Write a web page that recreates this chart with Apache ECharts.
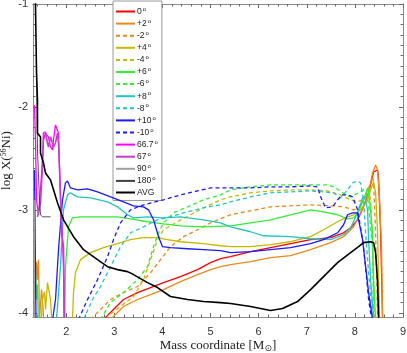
<!DOCTYPE html>
<html>
<head>
<meta charset="utf-8">
<script src="https://cdn.jsdelivr.net/npm/echarts@6/dist/echarts.min.js"></script>
<style>
  html, body { margin: 0; padding: 0; background: #fff; }
  #chart { width: 407px; height: 353px; }
</style>
</head>
<body>
<div id="chart"></div>
<script>
// x = mass coordinate [Msun], y = log X(56Ni)
var deg0 = [[2.713,-4.2],[2.775,-4.064],[2.983,-3.967],[3.191,-3.870],[3.482,-3.803],[3.753,-3.754],[4.023,-3.706],[4.376,-3.648],[4.730,-3.580],[5.000,-3.512],[5.208,-3.473],[5.416,-3.454],[5.832,-3.406],[6.247,-3.367],[6.663,-3.328],[7.079,-3.289],[7.495,-3.270],[7.765,-3.222],[7.911,-3.173],[8.056,-3.096],[8.181,-2.970],[8.285,-2.834],[8.389,-2.631],[8.472,-2.612],[8.493,-2.709],[8.535,-3.222],[8.576,-4.064],[8.59,-4.2]];
var degP2 = [[1.341,-3.870],[1.383,-3.503],[1.403,-3.677],[1.424,-3.483],[1.445,-4.064],[1.487,-3.774],[1.507,-3.870],[1.549,-4.2],[2.817,-4.2],[2.921,-4.064],[3.191,-3.938],[3.482,-3.870],[3.753,-3.822],[4.023,-3.774],[4.376,-3.696],[4.730,-3.628],[5.000,-3.580],[5.208,-3.551],[5.416,-3.532],[5.832,-3.503],[6.247,-3.464],[6.663,-3.444],[7.079,-3.386],[7.495,-3.318],[7.765,-3.260],[7.973,-3.164],[8.118,-3.028],[8.264,-2.873],[8.368,-2.641],[8.431,-2.563],[8.472,-2.612],[8.514,-2.902],[8.555,-3.386],[8.576,-4.064],[8.59,-4.2]];
var degM2 = [[2.464,-4.2],[2.505,-4.064],[2.713,-3.967],[2.921,-3.870],[3.191,-3.803],[3.482,-3.744],[3.753,-3.609],[3.961,-3.483],[4.168,-3.357],[4.439,-3.260],[4.730,-3.193],[5.000,-3.125],[5.208,-3.086],[5.416,-3.047],[5.832,-3.009],[6.247,-2.970],[6.663,-2.960],[7.079,-2.951],[7.495,-2.960],[7.765,-2.970],[7.973,-2.999],[8.077,-2.980],[8.181,-2.902],[8.285,-2.786],[8.368,-2.680],[8.389,-2.738],[8.431,-3.222],[8.472,-4.064],[8.48,-4.2]];
var degP4 = [[1.466,-4.2],[1.507,-3.870],[1.549,-3.793],[1.570,-3.967],[1.611,-3.706],[1.632,-3.696],[1.674,-3.870],[1.715,-4.2],[2.110,-4.2],[2.131,-4.064],[2.152,-3.803],[2.193,-3.609],[2.297,-3.483],[2.505,-3.415],[2.775,-3.367],[3.067,-3.328],[3.337,-3.289],[3.607,-3.270],[3.898,-3.270],[4.106,-3.289],[4.376,-3.309],[4.854,-3.328],[5.208,-3.348],[5.416,-3.357],[5.832,-3.357],[6.247,-3.338],[6.663,-3.309],[7.079,-3.260],[7.349,-3.193],[7.640,-3.115],[7.848,-3.067],[7.973,-3.047],[8.118,-2.999],[8.264,-2.902],[8.327,-2.805],[8.389,-2.728],[8.431,-2.834],[8.472,-3.222],[8.493,-3.677],[8.514,-4.064],[8.52,-4.2]];
var degM4 = [[2.819,-4.2],[2.859,-4.035],[3.129,-3.938],[3.399,-3.841],[3.607,-3.677],[3.753,-3.483],[3.898,-3.289],[4.023,-3.193],[4.314,-3.115],[4.584,-3.047],[4.854,-2.980],[5.208,-2.902],[5.416,-2.873],[5.832,-2.834],[6.247,-2.815],[6.663,-2.805],[7.079,-2.805],[7.432,-2.815],[7.702,-2.854],[7.911,-2.902],[8.056,-2.922],[8.160,-2.902],[8.223,-2.873],[8.285,-2.776],[8.327,-2.902],[8.368,-3.386],[8.410,-4.064],[8.42,-4.2]];
var degP6 = [[1.362,-3.580],[1.383,-3.870],[1.403,-3.725],[1.424,-4.2],[1.965,-4.2],[1.985,-3.551],[2.048,-3.164],[2.131,-3.077],[2.297,-3.067],[2.651,-3.067],[3.067,-3.067],[3.337,-3.086],[3.690,-3.115],[4.023,-3.135],[4.376,-3.154],[4.854,-3.164],[5.416,-3.154],[5.832,-3.125],[6.247,-3.096],[6.663,-3.047],[7.079,-2.999],[7.349,-3.018],[7.640,-3.047],[7.848,-3.086],[7.973,-3.077],[8.077,-3.018],[8.181,-2.902],[8.264,-2.786],[8.306,-2.902],[8.368,-3.222],[8.389,-3.677],[8.431,-4.064],[8.44,-4.2]];
var degM6 = [[2.671,-4.2],[2.713,-4.064],[2.921,-3.899],[3.191,-3.803],[3.482,-3.677],[3.690,-3.551],[3.815,-3.357],[3.919,-3.222],[4.023,-3.125],[4.231,-3.028],[4.522,-2.970],[4.854,-2.902],[5.208,-2.854],[5.416,-2.805],[5.832,-2.776],[6.247,-2.757],[6.663,-2.757],[7.079,-2.757],[7.432,-2.757],[7.557,-2.776],[7.661,-2.805],[7.806,-2.854],[7.911,-2.873],[8.077,-2.834],[8.181,-2.805],[8.264,-2.873],[8.306,-3.067],[8.368,-3.386],[8.389,-4.064],[8.40,-4.2]];
var degP8 = [[1.778,-4.2],[1.881,-3.551],[1.944,-2.999],[2.027,-2.854],[2.089,-2.834],[2.235,-2.873],[2.505,-2.883],[2.859,-2.922],[3.067,-2.970],[3.274,-3.047],[3.399,-3.077],[3.690,-3.067],[4.023,-3.077],[4.376,-3.067],[4.854,-3.096],[5.208,-3.125],[5.416,-3.164],[5.832,-3.212],[6.102,-3.251],[6.663,-3.260],[7.079,-3.280],[7.495,-3.289],[7.765,-3.241],[7.911,-3.173],[8.056,-3.028],[8.160,-2.883],[8.202,-2.873],[8.264,-2.999],[8.285,-3.289],[8.327,-3.677],[8.389,-4.064],[8.40,-4.2]];
var degM8 = [[2.318,-4.2],[2.360,-4.064],[2.547,-3.870],[2.713,-3.744],[2.921,-3.551],[3.129,-3.357],[3.337,-3.222],[3.607,-3.164],[3.898,-3.096],[4.168,-3.067],[4.439,-3.028],[4.854,-2.980],[5.208,-2.951],[5.416,-2.922],[5.832,-2.873],[6.247,-2.834],[6.663,-2.825],[7.079,-2.815],[7.349,-2.825],[7.557,-2.834],[7.702,-2.883],[7.848,-2.805],[7.952,-2.738],[8.056,-2.718],[8.118,-2.738],[8.181,-2.902],[8.223,-3.222],[8.285,-3.609],[8.368,-4.064],[8.38,-4.2]];
var degP10 = [[1.341,-2.612],[1.372,-4.064],[1.38,-4.2],[1.674,-4.2],[1.778,-3.870],[1.840,-3.386],[1.923,-2.902],[1.985,-2.738],[2.027,-2.718],[2.089,-2.786],[2.235,-2.805],[2.443,-2.796],[2.651,-2.825],[2.921,-2.873],[3.191,-2.922],[3.399,-2.960],[3.607,-2.970],[3.711,-2.999],[3.815,-3.096],[3.919,-3.260],[4.002,-3.357],[4.168,-3.367],[4.521,-3.377],[4.854,-3.386],[5.208,-3.396],[5.416,-3.415],[5.832,-3.406],[6.247,-3.386],[6.663,-3.367],[7.079,-3.328],[7.349,-3.289],[7.640,-3.222],[7.765,-3.144],[7.848,-3.047],[7.952,-3.028],[8.056,-3.028],[8.077,-3.096],[8.160,-3.289],[8.223,-3.551],[8.285,-3.803],[8.368,-4.064],[8.38,-4.2]];
var degM10 = [[2.214,-4.2],[2.256,-4.064],[2.443,-3.870],[2.651,-3.677],[2.859,-3.454],[2.983,-3.289],[3.129,-3.125],[3.337,-2.999],[3.607,-2.951],[4.023,-2.902],[4.376,-2.854],[4.730,-2.815],[5.000,-2.786],[5.416,-2.786],[5.832,-2.786],[6.247,-2.776],[6.663,-2.776],[7.079,-2.767],[7.224,-2.776],[7.287,-2.873],[7.391,-2.980],[7.536,-2.970],[7.640,-2.902],[7.744,-2.854],[7.848,-2.854],[7.952,-2.873],[8.056,-2.999],[8.160,-3.289],[8.223,-3.551],[8.285,-3.870],[8.347,-4.064],[8.36,-4.2]];
var deg667 = [[1.341,-1.983],[1.362,-2.321],[1.383,-2.902],[1.424,-3.047],[1.466,-2.805],[1.507,-2.515],[1.528,-2.321],[1.570,-2.254],[1.611,-2.244],[1.632,-2.292],[1.674,-2.389],[1.715,-2.418],[1.736,-2.321],[1.778,-2.176],[1.819,-2.167],[1.840,-2.254],[1.881,-2.902],[1.923,-3.289],[1.944,-3.551],[1.954,-4.064],[1.96,-4.2]];
var deg67 = [[1.403,-3.067],[1.466,-2.931],[1.507,-2.583],[1.528,-2.254],[1.570,-2.244],[1.611,-2.350],[1.632,-2.389],[1.674,-2.292],[1.715,-2.350],[1.736,-2.389],[1.778,-2.350],[1.819,-2.254],[1.840,-2.350],[1.881,-2.834],[1.902,-3.222],[1.923,-3.289],[1.944,-3.357],[1.965,-4.064],[1.97,-4.2]];
var deg90 = [[1.335,-2.9],[1.338,-3.5],[1.34,-4.2]];
var deg180 = [[1.383,-1.547],[1.403,-2.418],[1.445,-2.902],[1.466,-3.047],[1.508,-3.067],[1.674,-3.067]];
var avg = [[1.36,-0.95],[1.383,-1.673],[1.403,-1.934],[1.403,-2.254],[1.466,-2.292],[1.466,-2.447],[1.528,-2.544],[1.570,-2.641],[1.674,-2.709],[1.819,-2.931],[1.944,-3.096],[2.152,-3.260],[2.360,-3.386],[2.651,-3.483],[2.859,-3.551],[3.067,-3.580],[3.274,-3.599],[3.399,-3.628],[3.690,-3.706],[3.898,-3.754],[4.168,-3.841],[4.521,-3.870],[4.854,-3.890],[5.208,-3.900],[5.416,-3.909],[5.832,-3.938],[6.247,-3.977],[6.497,-3.958],[6.809,-3.890],[7.079,-3.774],[7.349,-3.648],[7.640,-3.512],[7.911,-3.415],[8.077,-3.357],[8.181,-3.318],[8.327,-3.309],[8.389,-3.318],[8.431,-3.415],[8.472,-3.706],[8.493,-4.064],[8.50,-4.2]];

var names = ['0°','+2°','-2°','+4°','-4°','+6°','-6°','+8°','-8°','+10°','-10°','66.7°','67°','90°','180°','AVG'];
var curves = [deg0, degP2, degM2, degP4, degM4, degP6, degM6, degP8, degM8, degP10, degM10, deg667, deg67, deg90, deg180, avg];
var colors = ['#ff0000','#e8891e','#e8891e','#c8b800','#c8b800','#33ee33','#33ee33','#22c4c4','#22c4c4','#1a1aff','#1a1aff','#ff00ff','#c040c8','#a0a0a0','#404040','#000000'];
var dashed = [false,false,true,false,true,false,true,false,true,false,true,false,false,false,false,false];
var widths = [1.3,1.3,1.3,1.3,1.3,1.3,1.3,1.3,1.3,1.3,1.3,1.3,1.6,1.3,0.9,1.6];

var xMajor = [2,3,4,5,6,7,8,9];
var yMajor = [-4,-3,-2,-1];
var xMin = 1.31, xMax = 9, yMin = -4.04, yMax = -1;

var xMinor = [];
for (var v = 14; v <= 90; v += 2) { if (v % 10 !== 0) xMinor.push(v / 10); }
var yMinor = [];
for (var w = -40; w <= -10; w++) { if (w % 10 !== 0) yMinor.push(w / 10); }

var myChart = echarts.init(document.getElementById('chart'));

function xAx(pos, vals, len, labels) {
  return {
    type: 'value', min: xMin, max: xMax, position: pos,
    axisLine: { show: true, onZero: false, lineStyle: { color: '#8a8a8a', width: 1 } },
    axisTick: { show: true, inside: true, length: len, customValues: vals, lineStyle: { color: '#6a6a6a' } },
    axisLabel: labels ? { show: true, customValues: xMajor, margin: 9, color: '#333', fontSize: 11, fontFamily: 'Liberation Sans' } : { show: false },
    splitLine: { show: false }
  };
}
function yAx(pos, vals, len, labels) {
  return {
    type: 'value', min: yMin, max: yMax, position: pos,
    axisLine: { show: true, onZero: false, lineStyle: { color: '#8a8a8a', width: 1 } },
    axisTick: { show: true, inside: true, length: len, customValues: vals, lineStyle: { color: '#6a6a6a' } },
    axisLabel: labels ? { show: true, customValues: yMajor, margin: 5, color: '#333', fontSize: 11, fontFamily: 'Liberation Sans' } : { show: false },
    splitLine: { show: false }
  };
}

var xAxes = [xAx('bottom', xMajor, 4, true), xAx('bottom', xMinor, 2.5, false), xAx('top', xMajor, 4, false), xAx('top', xMinor, 2.5, false)];
xAxes[0].name = 'Mass coordinate [M{sub|⊙}]';
xAxes[0].nameLocation = 'middle';
xAxes[0].nameGap = 21;
xAxes[0].nameMoveOverlap = false;
xAxes[0].nameTextStyle = { fontFamily: 'Liberation Serif', fontSize: 13, color: '#222', rich: { sub: { fontSize: 9, padding: [6, 0, 0, 0], fontFamily: 'DejaVu Sans', color: '#222' } } };

var yAxes = [yAx('left', yMajor, 4, true), yAx('left', yMinor, 2.5, false), yAx('right', yMajor, 4, false), yAx('right', yMinor, 2.5, false)];
yAxes[0].name = 'log X({sup|56}Ni)';
yAxes[0].nameLocation = 'middle';
yAxes[0].nameRotate = 90;
yAxes[0].nameGap = 19;
yAxes[0].nameMoveOverlap = false;
yAxes[0].nameTextStyle = { fontFamily: 'Liberation Serif', fontSize: 13, color: '#222', rich: { sup: { fontSize: 8, padding: [0, 0, 6, 0], fontFamily: 'Liberation Serif', color: '#222' } } };

var series = curves.map(function (d, i) {
  return {
    name: names[i],
    type: 'line',
    data: d,
    symbol: 'none',
    showSymbol: false,
    clip: true,
    silent: true,
    z: 2 + i,
    lineStyle: { color: colors[i], width: widths[i], type: dashed[i] ? [4, 3] : 'solid' },
    itemStyle: { color: colors[i] }
  };
});

var option = {
  animation: false,
  grid: { left: 33, right: 4, top: 4, bottom: 36, containLabel: false, outerBoundsMode: 'none' },
  xAxis: xAxes,
  yAxis: yAxes,
  legend: {
    orient: 'vertical',
    left: 113,
    top: 1,
    padding: [5, 4, 3, 2],
    itemWidth: 19,
    itemHeight: 8,
    itemGap: 1.6,
    backgroundColor: '#fff',
    borderColor: '#9a9a9a',
    borderWidth: 1,
    borderRadius: 0,
    selectedMode: false,
    data: names,
    itemStyle: { opacity: 0, borderWidth: 0 },
    formatter: function (n) {
      return n.indexOf('°') >= 0 ? n.replace('°', '{sup|o}') : n;
    },
    textStyle: {
      fontFamily: 'Liberation Sans', fontSize: 8.5, color: '#222', lineHeight: 10, padding: [0, 0, 0, -3],
      rich: { sup: { fontSize: 6, padding: [0, 0, 5, 1], color: '#222' } }
    }
  },
  series: series
};

option && myChart.setOption(option);
</script>
</body>
</html>
